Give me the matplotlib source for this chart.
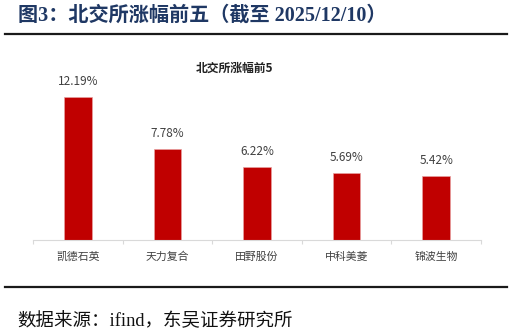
import matplotlib.pyplot as plt
from matplotlib.lines import Line2D

plt.rcParams['font.family'] = ['Noto Sans CJK SC', 'DejaVu Sans']

# data
stocks = ['凯德石英', '天力复合', '田野股份', '中科美菱', '锦波生物']
gains = [12.19, 7.78, 6.22, 5.69, 5.42]
value_labels = ['12.19%', '7.78%', '6.22%', '5.69%', '5.42%']

W, H = 513, 334
fig = plt.figure(figsize=(W / 100, H / 100), dpi=100)

# header and footer
serif = ['Liberation Serif', 'Noto Sans CJK SC']
fig.text(18 / W, 1 - 16 / H, '图3：北交所涨幅前五（截至 2025/12/10）', family=serif,
         fontsize=14.5, fontweight='bold', color='#1f3864', va='center', ha='left')
fig.add_artist(Line2D([5 / W, 507 / W], [1 - 34 / H] * 2, color='#1a1a1a', lw=1.6))
fig.add_artist(Line2D([5 / W, 507 / W], [1 - 287 / H] * 2, color='#1a1a1a', lw=1.6))
fig.text(17 / W, 1 - 321 / H, '数据来源：ifind，东吴证券研究所', family=serif,
         fontsize=13.3, fontweight='light', color='#111111', va='center', ha='left')

# chart
ymax = 14
left, right, base = 33, 481, 240
top = base - ymax * 11.73
ax = fig.add_axes([left / W, 1 - base / H, (right - left) / W, (base - top) / H])
x = list(range(len(stocks)))
bars = ax.bar(x, gains, width=0.31, color='#c00000', edgecolor='#e8a0a0', linewidth=0.5)
for b, lab in zip(bars, value_labels):
    ax.annotate(lab, (b.get_x() + b.get_width() / 2, b.get_height()), xytext=(0, 6.5),
                textcoords='offset points', ha='center', va='bottom', fontsize=8.5, color='#404040')
ax.set_xlim(-0.5, len(stocks) - 0.5)
ax.set_ylim(0, ymax)
ax.set_yticks([])
ax.set_xticks([i - 0.5 for i in range(len(stocks) + 1)], minor=False)
ax.set_xticklabels([''] * (len(stocks) + 1))
ax.tick_params(axis='x', length=3, color='#d9d9d9', width=0.8)
for i, s in enumerate(stocks):
    ax.text(i, -1.45, s, ha='center', va='center', fontsize=7.8, color='#404040')
for sp in ['top', 'right', 'left']:
    ax.spines[sp].set_visible(False)
ax.spines['bottom'].set_color('#d9d9d9')
ax.spines['bottom'].set_linewidth(0.8)

fig.text(234 / W, 1 - 68 / H, '北交所涨幅前5', ha='center', va='center', fontsize=8.5,
         fontweight='bold', color='#222222')

fig.savefig('out.png', dpi=100)
